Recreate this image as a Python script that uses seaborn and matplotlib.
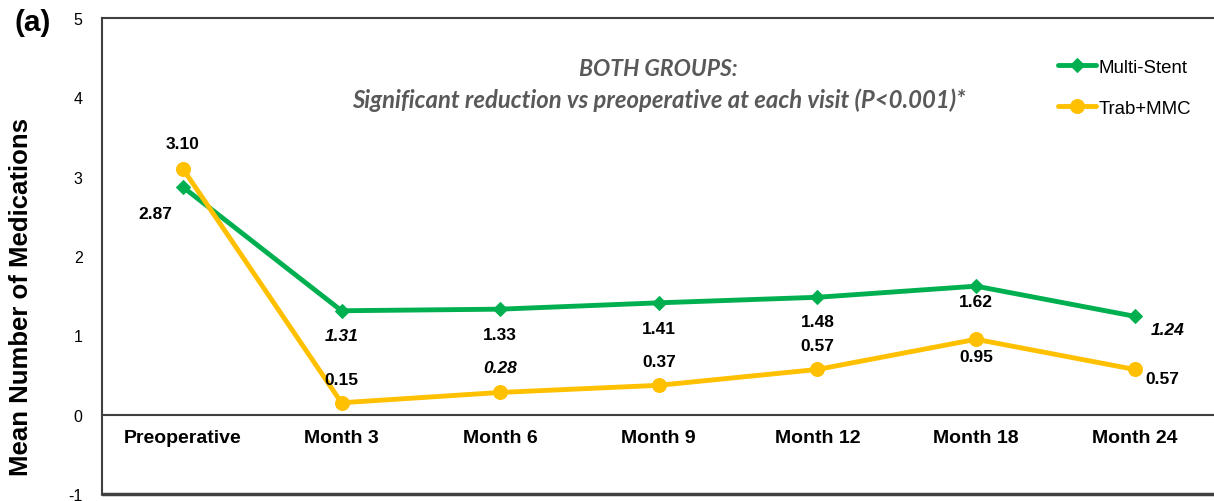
import numpy as np
import pandas as pd
import matplotlib
matplotlib.use('Agg')
import matplotlib.pyplot as plt
import seaborn as sns

visits = ['Preoperative', 'Month 3', 'Month 6', 'Month 9', 'Month 12', 'Month 18', 'Month 24']
multi_stent = [2.87, 1.31, 1.33, 1.41, 1.48, 1.62, 1.24]
trab_mmc = [3.10, 0.15, 0.28, 0.37, 0.57, 0.95, 0.57]
multi_labels = ['2.87', '1.31', '1.33', '1.41', '1.48', '1.62', '1.24']
trab_labels = ['3.10', '0.15', '0.28', '0.37', '0.57', '0.95', '0.57']
multi_italic = [False, True, False, False, False, False, True]
trab_italic = [False, False, True, False, False, False, False]

# label offsets in pixels (dx, dy)
multi_off = [(-28, -26), (0, -25), (0, -25), (0, -26), (0, -24), (0, -15), (33, -13)]
trab_off = [(0, 25), (0, 23), (0, 25), (0, 24), (0, 24), (0, -17), (28, -9)]

GREEN = '#00B050'
GOLD = '#FFC000'
SPINE = '#404040'

sns.set_style('white', rc={'text.color': 'black', 'axes.labelcolor': 'black',
                           'xtick.color': 'black', 'ytick.color': 'black'})
plt.rcParams['font.family'] = ['Liberation Sans', 'DejaVu Sans']

pos = np.arange(len(visits))
df_ms = pd.DataFrame({'pos': pos, 'value': multi_stent})
df_tm = pd.DataFrame({'pos': pos, 'value': trab_mmc})

fig = plt.figure(figsize=(12.14, 5.02), dpi=100)
ax = fig.add_axes([0.084, 0.014, 0.916, 0.948])

sns.lineplot(data=df_ms, x='pos', y='value', color=GREEN, lw=3.5, marker='D',
             markersize=7, markeredgecolor=GREEN, label='Multi-Stent', ax=ax)
sns.lineplot(data=df_tm, x='pos', y='value', color=GOLD, lw=3.5, marker='o',
             markersize=10, markeredgecolor=GOLD, label='Trab+MMC', ax=ax)

for xs, ys, labs, its, offs in [(pos, multi_stent, multi_labels, multi_italic, multi_off),
                                 (pos, trab_mmc, trab_labels, trab_italic, trab_off)]:
    for x, y, lab, it, (dx, dy) in zip(xs, ys, labs, its, offs):
        ax.annotate(lab, (x, y), xytext=(dx, dy), textcoords='offset pixels',
                    ha='center', va='center', fontsize=12.5, fontweight='bold',
                    style='italic' if it else 'normal', color='black')

# spine first: moving it resets the tick styling
ax.spines['bottom'].set_position(('data', 0))
ax.spines['right'].set_visible(False)
for s in ['left', 'top', 'bottom']:
    ax.spines[s].set_color(SPINE)
    ax.spines[s].set_linewidth(1.5)
ax.axhline(-1, color=SPINE, lw=2.5, clip_on=False)

ax.set_xlim(-0.51, 6.5)
ax.set_ylim(-1, 5)
ax.set_yticks(range(-1, 6))
ax.set_yticklabels([str(v) for v in range(-1, 6)])
ax.set_xticks(pos)
ax.set_xticklabels(visits)
ax.tick_params(axis='y', length=0, pad=14, labelsize=11.5)
ax.tick_params(axis='x', length=0, pad=10, labelsize=14)
for t in ax.get_xticklabels():
    t.set_fontweight('bold')

ax.set_xlabel('')
ax.set_ylabel('Mean Number of Medications', fontsize=18.5)
ax.yaxis.label.set_fontweight('bold')
ax.yaxis.set_label_coords(-0.062, 0.416)

ax.text(3.0, 4.36, 'BOTH GROUPS:', ha='center', va='center', fontsize=16.5,
        fontweight='bold', style='italic', color='#595959', family=['Lato', 'DejaVu Sans'])
ax.text(3.0, 3.98, 'Significant reduction vs preoperative at each visit (P<0.001)*',
        ha='center', va='center', fontsize=17.2, fontweight='bold', style='italic',
        color='#595959', family=['Lato', 'DejaVu Sans'])

fig.text(0.012, 0.955, '(a)', fontsize=21.5, fontweight='bold', va='center', ha='left')

ax.legend(loc='upper left', bbox_to_anchor=(0.8656, 0.896), bbox_transform=fig.transFigure,
          frameon=False, fontsize=13.4, labelspacing=1.3, handlelength=2.0,
          handletextpad=0.15, borderaxespad=0)

fig.savefig('out.png', dpi=100, facecolor='white')
